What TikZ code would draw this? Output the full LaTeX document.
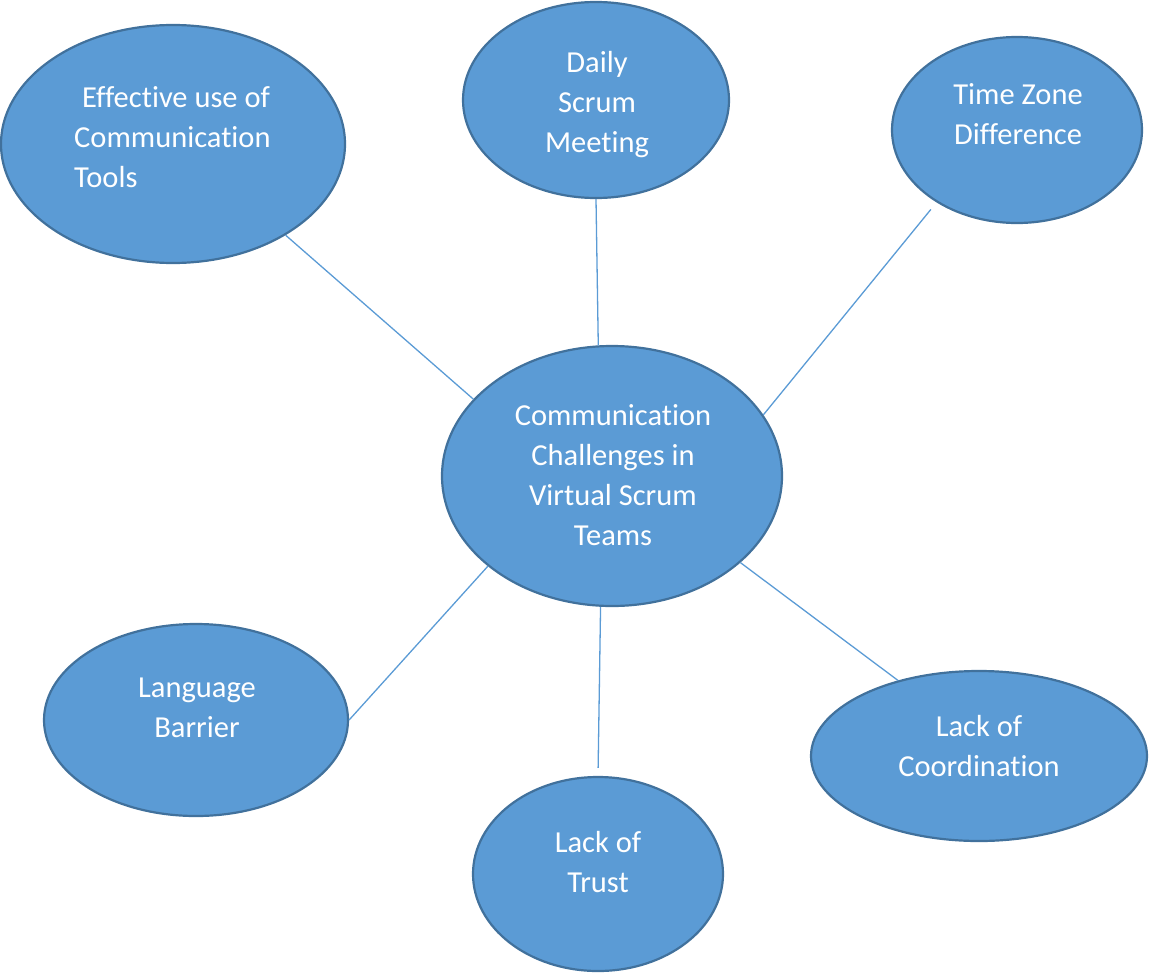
\documentclass[tikz,border=0pt]{standalone}
\usepackage{fontspec}
\setmainfont{Carlito}[Ligatures={NoCommon}]
\usetikzlibrary{shapes.geometric}
\definecolor{bubblefill}{HTML}{5B9BD5}
\definecolor{bubbleedge}{HTML}{41719C}
\definecolor{linkcol}{HTML}{5B9BD5}
\tikzset{
  bubble/.style={ellipse, fill=bubblefill, draw=bubbleedge, line width=2.2pt, inner sep=0pt},
  txt/.style={text=white, inner sep=0pt, align=center, font={\fontsize{30.5}{40}\selectfont}},
  txtl/.style={txt, align=left},
  link/.style={draw=linkcol, line width=1.3pt}
}
\begin{document}
\begin{tikzpicture}[x=1pt,y=-1pt]
\useasboundingbox (0,0) rectangle (1150,974);
% bubbles
\node[bubble, minimum width=340pt, minimum height=260pt] (c) at (612,476) {};
\node[bubble, minimum width=344pt, minimum height=238pt] (e) at (173,144) {};
\node[bubble, minimum width=266pt, minimum height=196pt] (d) at (596,100) {};
\node[bubble, minimum width=250pt, minimum height=186pt] (t) at (1017,130) {};
\node[bubble, minimum width=304pt, minimum height=192pt] (l) at (196,720) {};
\node[bubble, minimum width=336pt, minimum height=170pt] (k) at (979,756) {};
\node[bubble, minimum width=250pt, minimum height=194pt] (r) at (598,874) {};
% connectors
\draw[link] (c.151) -- (e.-39);
\draw[link] (c.96) -- (d.270);
\draw[link, shorten >=9pt] (c.22.5) -- (t.222);
\draw[link] (c.216.8) -- (l.0.7);
\draw[link, shorten >=8pt] (c.265) -- (r.90);
\draw[link] (c.-34) -- (k.137);
% texts
\node[txt] (ct) at (613,475) {Communication\\Challenges in\\Virtual Scrum\\Teams};
\node[txtl, anchor=west] (et) at (74,137) {\hspace*{8pt}Effective use of\\Communication\\Tools};
\node[txt] (dt) at (597,105) {Daily\\Scrum\\Meeting};
\node[txt] (tt) at (1018,114) {Time Zone\\Difference};
\node[txt] (lt) at (197,708) {Language\\Barrier};
\node[txt] (kt) at (979,746) {Lack of\\Coordination};
\node[txt] (rt) at (598,862) {Lack of\\Trust};
\end{tikzpicture}
\end{document}
